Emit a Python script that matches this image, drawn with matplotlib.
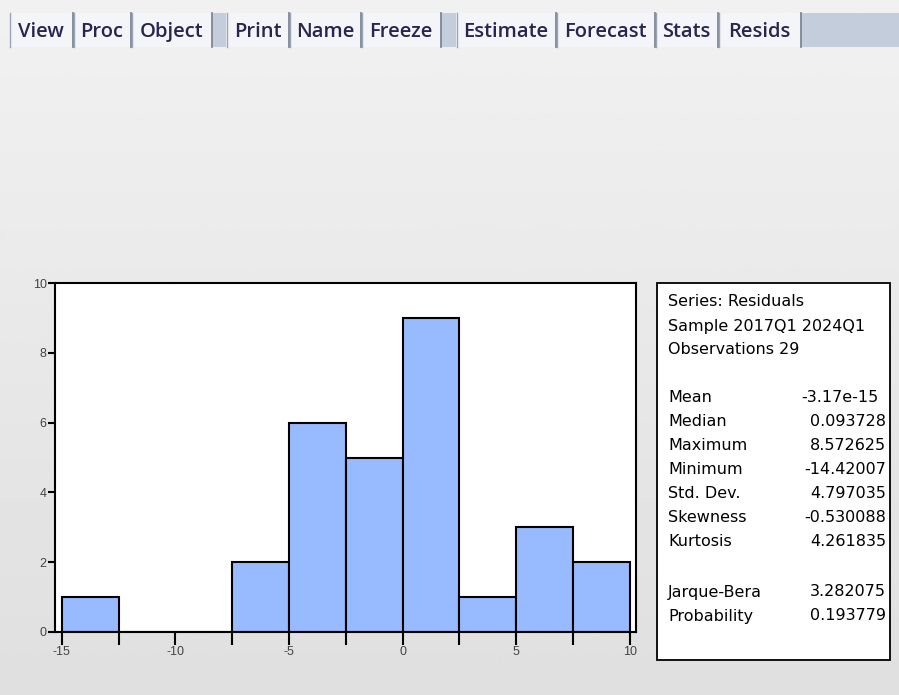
import numpy as np
import matplotlib
matplotlib.use("Agg")
import matplotlib.pyplot as plt
from matplotlib.patches import Rectangle

# histogram data (residuals, bin width 2.5)
bin_edges = [-15, -12.5, -10, -7.5, -5, -2.5, 0, 2.5, 5, 7.5, 10]
counts = [1, 0, 0, 2, 6, 5, 9, 1, 3, 2]
y_ticks = [0, 2, 4, 6, 8, 10]
x_ticks = [-15, -10, -5, 0, 5, 10]

# toolbar buttons: (label, left px, right px)
buttons = [("View", 9, 73), ("Proc", 73, 131), ("Object", 131, 212),
           ("Print", 226, 289), ("Name", 289, 361), ("Freeze", 361, 441),
           ("Estimate", 456, 556), ("Forecast", 556, 655),
           ("Stats", 655, 718), ("Resids", 718, 801)]

stat_header = ["Series: Residuals", "Sample 2017Q1 2024Q1", "Observations 29"]
stat_names = ["Mean", "Median", "Maximum", "Minimum", "Std. Dev.",
              "Skewness", "Kurtosis"]
stat_values = ["-3.17e-15", "0.093728", "8.572625", "-14.42007", "4.797035",
               "-0.530088", "4.261835"]
test_names = ["Jarque-Bera", "Probability"]
test_values = ["3.282075", "0.193779"]

W, H = 899, 695
fig = plt.figure(figsize=(W / 100, H / 100), dpi=100)

# background in pixel coordinates
bg = fig.add_axes([0, 0, 1, 1])
bg.set_xlim(0, W)
bg.set_ylim(H, 0)
bg.axis("off")
grad = np.linspace(0.945, 0.875, 256).reshape(-1, 1)
bg.imshow(grad, cmap="gray", vmin=0, vmax=1, extent=[0, W, H, 0], aspect="auto")

# toolbar
bar_top, bar_bot = 13, 47
bg.add_patch(Rectangle((9, bar_top), W - 9, bar_bot - bar_top,
                       facecolor="#c3cddc", edgecolor="none"))
for label, x0, x1 in buttons:
    bg.add_patch(Rectangle((x0, bar_top), x1 - x0, bar_bot - bar_top,
                           facecolor="#f3f5f8", edgecolor="none"))
    bg.plot([x1, x1], [bar_top, bar_bot], color="#7d8796", lw=1.3)
    bg.plot([x0 + 1, x0 + 1], [bar_top, bar_bot], color="#9aa4b2", lw=1.0)
    bg.text((x0 + x1) / 2, 32, label, ha="center", va="center",
            fontsize=14.5, family="Open Sans", fontweight="semibold",
            color="#2b2450")

# histogram
ax = fig.add_axes([55 / W, 1 - 632 / H, (636 - 55) / W, (632 - 283) / H])
ax.set_facecolor("white")
lefts = bin_edges[:-1]
widths = np.diff(bin_edges)
ax.bar(lefts, counts, width=widths, align="edge", color="#98bbff",
       edgecolor="black", linewidth=1.5)
ax.set_xlim(-15.3, 10.27)
ax.set_ylim(0, 10)
ax.set_xticks(bin_edges, minor=True)
ax.set_xticks(x_ticks)
ax.set_yticks(y_ticks)
for s in ax.spines.values():
    s.set_linewidth(1.5)
ax.tick_params(axis="x", which="both", direction="out", length=9, width=1.5,
               labelsize=9, pad=1, colors="black", labelcolor="#444444")
ax.tick_params(axis="y", direction="out", length=5, width=1.5,
               labelsize=9, pad=1, labelcolor="#444444")
ax.set_xticklabels([str(v) for v in x_ticks])
for lab in ax.get_xticklabels() + ax.get_yticklabels():
    lab.set_family("Liberation Sans")

# stats box
box = Rectangle((657, 283), 233, 377, facecolor="white", edgecolor="black",
                linewidth=1.3)
bg.add_patch(box)
fs = 11.5
fam = "DejaVu Sans"
y = 302
for line in stat_header:
    bg.text(668, y, line, fontsize=fs, family=fam, va="center", ha="left")
    y += 24
y += 24
for name, val in zip(stat_names, stat_values):
    bg.text(668, y, name, fontsize=fs, family=fam, va="center", ha="left")
    xr = 879 if name == "Mean" else 886
    bg.text(xr, y, val, fontsize=fs, family=fam, va="center", ha="right")
    y += 24
y += 26
for name, val in zip(test_names, test_values):
    bg.text(668, y, name, fontsize=fs, family=fam, va="center", ha="left")
    bg.text(886, y, val, fontsize=fs, family=fam, va="center", ha="right")
    y += 24

fig.savefig("out.png", dpi=100)
